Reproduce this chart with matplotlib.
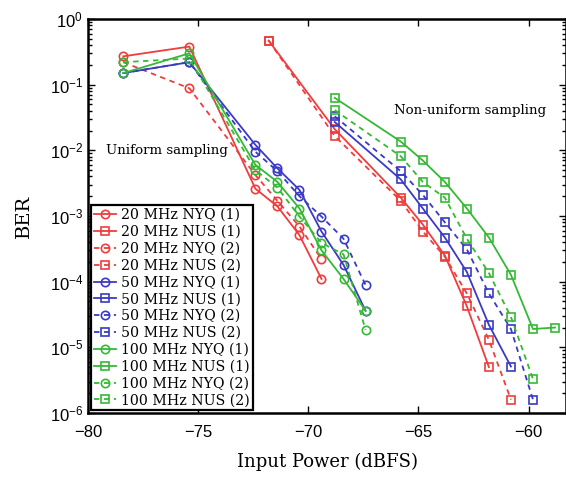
import matplotlib
matplotlib.use("Agg")
import matplotlib.pyplot as plt
from matplotlib.ticker import LogLocator, NullFormatter

plt.rcParams['font.family'] = ['Liberation Sans', 'DejaVu Sans']
plt.rcParams['mathtext.default'] = 'regular'

# potenza in ingresso (dBFS) per i due gruppi
x_nyq = [-78.4, -75.4, -72.4, -71.4, -70.4, -69.4, -68.4, -67.4]
x_nus20 = [-71.8, -68.8, -65.8, -64.8, -63.8, -62.8, -61.8, -60.8]
x_nus = [-68.8, -65.8, -64.8, -63.8, -62.8, -61.8, -60.8, -59.8, -58.8]

# BER campionamento uniforme
nyq20_1 = [0.27, 0.38, 0.0026, 0.0014, 0.00051, 0.00011]
nyq20_2 = [0.22, 0.088, 0.0042, 0.0017, 0.00069, 0.00022]
nyq50_1 = [0.15, 0.22, 0.0121, 0.0053, 0.0025, 0.00058, 0.00018, 3.6e-5]
nyq50_2 = [0.15, 0.22, 0.0095, 0.0048, 0.0020, 0.00098, 0.00045, 8.9e-5]
nyq100_1 = [0.15, 0.30, 0.0060, 0.0033, 0.0013, 0.00030, 0.00011, 3.6e-5]
nyq100_2 = [0.22, 0.25, 0.0050, 0.0027, 0.00098, 0.00039, 0.00026, 1.85e-5]

# BER campionamento non uniforme
nus20_1 = [0.47, 0.021, 0.0019, 0.00074, 0.00025, 4.2e-5, 5.0e-6]
nus20_2 = [0.47, 0.0165, 0.0017, 0.00058, 0.00024, 6.6e-5, 1.3e-5, 1.6e-6]
nus50_1 = [0.027, 0.0036, 0.0013, 0.00047, 0.00014, 2.2e-5, 5.1e-6]
nus50_2 = [0.033, 0.0048, 0.0021, 0.0008, 0.00031, 6.6e-5, 1.9e-5, 1.6e-6]
nus100_1 = [0.063, 0.0136, 0.0070, 0.0033, 0.0013, 0.00047, 0.000127, 1.9e-5, 2.0e-5]
nus100_2 = [0.041, 0.0081, 0.0033, 0.0019, 0.00045, 0.000135, 2.9e-5, 3.3e-6]

rosso = '#f03c3c'
blu = '#3a3ac4'
verde = '#35b935'
serif = ['DejaVu Serif']

fig = plt.figure(figsize=(5.66, 4.82), dpi=100)
ax = fig.add_axes([0.1555, 0.1432, 0.8445, 0.8174])

serie = [
    ("20 MHz NYQ (1)", x_nyq, nyq20_1, rosso, '-', 'o'),
    ("20 MHz NUS (1)", x_nus20, nus20_1, rosso, '-', 's'),
    ("20 MHz NYQ (2)", x_nyq, nyq20_2, rosso, '--', 'o'),
    ("20 MHz NUS (2)", x_nus20, nus20_2, rosso, '--', 's'),
    ("50 MHz NYQ (1)", x_nyq, nyq50_1, blu, '-', 'o'),
    ("50 MHz NUS (1)", x_nus, nus50_1, blu, '-', 's'),
    ("50 MHz NYQ (2)", x_nyq, nyq50_2, blu, '--', 'o'),
    ("50 MHz NUS (2)", x_nus, nus50_2, blu, '--', 's'),
    ("100 MHz NYQ (1)", x_nyq, nyq100_1, verde, '-', 'o'),
    ("100 MHz NUS (1)", x_nus, nus100_1, verde, '-', 's'),
    ("100 MHz NYQ (2)", x_nyq, nyq100_2, verde, '--', 'o'),
    ("100 MHz NUS (2)", x_nus, nus100_2, verde, '--', 's'),
]

for nome, xs, ys, col, stile, mk in serie:
    linea, = ax.plot(xs[:len(ys)], ys, linestyle=stile, color=col, marker=mk,
                     markersize=6 if mk == 'o' else 5.5, markerfacecolor='none',
                     markeredgewidth=1.2, linewidth=1.3, label=nome)
    if stile == '--':
        linea.set_dashes((3, 2.5))

ax.set_yscale('log')
ax.set_xlim(-80, -58.3)
ax.set_ylim(1e-6, 1)
ax.set_xticks([-80, -75, -70, -65, -60])
ax.yaxis.set_major_locator(LogLocator(base=10, numticks=10))
ax.yaxis.set_minor_locator(LogLocator(base=10, subs=range(2, 10), numticks=10))
ax.yaxis.set_minor_formatter(NullFormatter())
ax.tick_params(which='both', direction='in', top=True, right=True, labelsize=12, width=1)
ax.tick_params(which='major', length=5)
ax.tick_params(which='minor', length=3)
ax.tick_params(axis='x', pad=9)
for s in ax.spines.values():
    s.set_linewidth(1.8)

ax.text(-79.2, 0.0098, "Uniform sampling", family=serif, fontsize=9.6, va='center')
ax.text(-66.1, 0.04, "Non-uniform sampling", family=serif, fontsize=9.6, va='center')

ax.set_xlabel("Input Power (dBFS)", family=serif, fontsize=13, labelpad=9)
ax.set_ylabel("BER", family=serif, fontsize=14, labelpad=12)

leg = ax.legend(loc='lower left', prop={'family': serif, 'size': 10.2},
                labelspacing=0.2, borderpad=0.2, handlelength=1.6,
                handletextpad=0.35, borderaxespad=0.2, fancybox=False,
                framealpha=1, edgecolor='black')
leg.get_frame().set_linewidth(1.6)

fig.savefig("out.png", dpi=100)
